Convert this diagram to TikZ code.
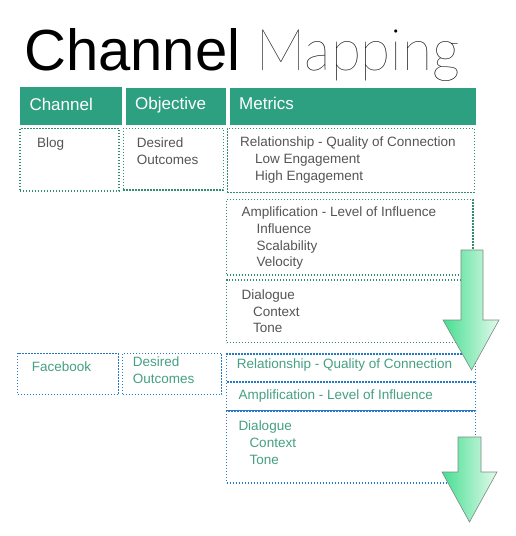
\documentclass[tikz,border=0pt]{standalone}
\usepackage{fontspec}
\setmainfont{Liberation Sans}
\IfFontExistsTF{Lato Thin}{\newfontfamily\thinfont{Lato Thin}}{%
  \IfFontExistsTF{Lato Hairline}{\newfontfamily\thinfont{Lato Hairline}}{%
    \IfFontExistsTF{Lato Light}{\newfontfamily\thinfont{Lato Light}}{\newfontfamily\thinfont{Liberation Sans}}}}
\definecolor{hdrteal}{RGB}{46,160,130}
\definecolor{rowonedot}{RGB}{50,140,110}
\definecolor{rowtwodot}{RGB}{40,120,200}
\definecolor{rowonetext}{RGB}{85,85,85}
\definecolor{rowtwotext}{RGB}{70,160,130}
\definecolor{arrowgreen}{RGB}{70,222,145}
\definecolor{arrowlight}{RGB}{228,250,236}
\definecolor{arrowedge}{RGB}{120,140,130}
\begin{document}
\begin{tikzpicture}[x=1pt,y=-1pt,
  hdrbox/.style={fill=hdrteal, draw=none, inner sep=0, outer sep=0, anchor=north west},
  hdrtext/.style={text=white, inner sep=0, anchor=base west, font=\fontsize{17}{20}\selectfont},
  boxone/.style={draw=rowonedot, line width=1.3pt, dash pattern=on 1.3pt off 1.7pt, fill=white, inner sep=0, outer sep=0, anchor=north west},
  boxtwo/.style={draw=rowtwodot, line width=1.3pt, dash pattern=on 1.3pt off 1.7pt, fill=white, inner sep=0, outer sep=0, anchor=north west},
  txtone/.style={text=rowonetext, inner sep=0, anchor=north west, align=left, font=\fontsize{13.5}{17}\selectfont},
  txttwo/.style={text=rowtwotext, inner sep=0, anchor=north west, align=left, font=\fontsize{13.5}{17}\selectfont},
  bigarrow/.style={left color=arrowgreen, right color=arrowlight, draw=arrowedge, line width=0.6pt, line join=miter}
]
\useasboundingbox (0,0) rectangle (516,536);
\fill[white] (0,0) rectangle (516,536);

% title
\node[inner sep=0, anchor=base west, font=\fontsize{58}{60}\selectfont] (titlea) at (24,70) {Channel};
\node[inner sep=0, anchor=base west, font=\fontsize{58}{60}\selectfont\thinfont, text=black, xscale=0.95] (titleb) at (256.7,70) {Mapping};

% headers
\node[hdrbox, minimum width=101.7pt, minimum height=37.7pt] (hdrch) at (20,87.3) {};
\node[hdrbox, minimum width=99.7pt, minimum height=37.5pt] (hdrobj) at (126,87.5) {};
\node[hdrbox, minimum width=245.7pt, minimum height=37.5pt] (hdrmet) at (230,87.5) {};
\node[hdrtext] (hdrchtxt) at (29.3,110) {Channel};
\node[hdrtext] (hdrobjtxt) at (135,109.5) {Objective};
\node[hdrtext] (hdrmettxt) at (239,109) {Metrics};

% row one
\node[boxone, minimum width=99pt, minimum height=62.7pt] (blogbox) at (20,128.3) {};
\node[boxone, minimum width=100pt, minimum height=61.7pt] (desonebox) at (123.3,128.3) {};
\node[boxone, minimum width=247pt, minimum height=64pt] (relonebox) at (227.3,128.3) {};
\node[boxone, minimum width=246.5pt, minimum height=75.7pt] (amponebox) at (226.5,199.3) {};
\node[boxone, minimum width=246.5pt, minimum height=62.5pt] (diaonebox) at (226.5,280) {};

\node[txtone] (blogtxt) at (37,137.5) {Blog};
\node[txtone] (desonetxt) at (136.7,137.3) {Desired\\Outcomes};
\node[txtone] (relonetxt) at (240,136.3) {Relationship - Quality of Connection\\\hspace*{15pt}Low Engagement\\\hspace*{15pt}High Engagement};
\node[txtone, font=\fontsize{13.5}{16.7}\selectfont] (amponetxt) at (241.5,206.8) {Amplification - Level of Influence\\\hspace*{15pt}Influence\\\hspace*{15pt}Scalability\\\hspace*{15pt}Velocity};
\node[txtone, font=\fontsize{13.5}{16.8}\selectfont] (diaonetxt) at (241.5,289.3) {Dialogue\\\hspace*{11.5pt}Context\\\hspace*{11.5pt}Tone};

% row two
\node[boxtwo, minimum width=101pt, minimum height=41.2pt] (fbbox) at (17.5,353.3) {};
\node[boxtwo, minimum width=99pt, minimum height=41.2pt] (destwobox) at (122.7,353.3) {};
\node[boxtwo, minimum width=249pt, minimum height=28pt] (reltwobox) at (226.5,354) {};
\node[boxtwo, minimum width=249pt, minimum height=29pt] (amptwobox) at (226.5,382) {};
\node[boxtwo, minimum width=249pt, minimum height=72pt] (diatwobox) at (226.5,411) {};

\node[txttwo] (fbtxt) at (31.7,362) {Facebook};
\node[txttwo] (destwotxt) at (132.7,357) {Desired\\Outcomes};
\node[txttwo] (reltwotxt) at (236.7,358.3) {Relationship - Quality of Connection};
\node[txttwo] (amptwotxt) at (238.3,389.3) {Amplification - Level of Influence};
\node[txttwo] (diatwotxt) at (238.3,420.3) {Dialogue\\\hspace*{11pt}Context\\\hspace*{11pt}Tone};

% big arrows
\path[bigarrow] (461,250) -- (483,250) -- (483,320) -- (499,320) -- (471.5,370) -- (443,320) -- (461,320) -- cycle;
\path[bigarrow] (458,437) -- (481,437) -- (481,472) -- (497,472) -- (469.5,522) -- (442,472) -- (458,472) -- cycle;
\end{tikzpicture}
\end{document}
